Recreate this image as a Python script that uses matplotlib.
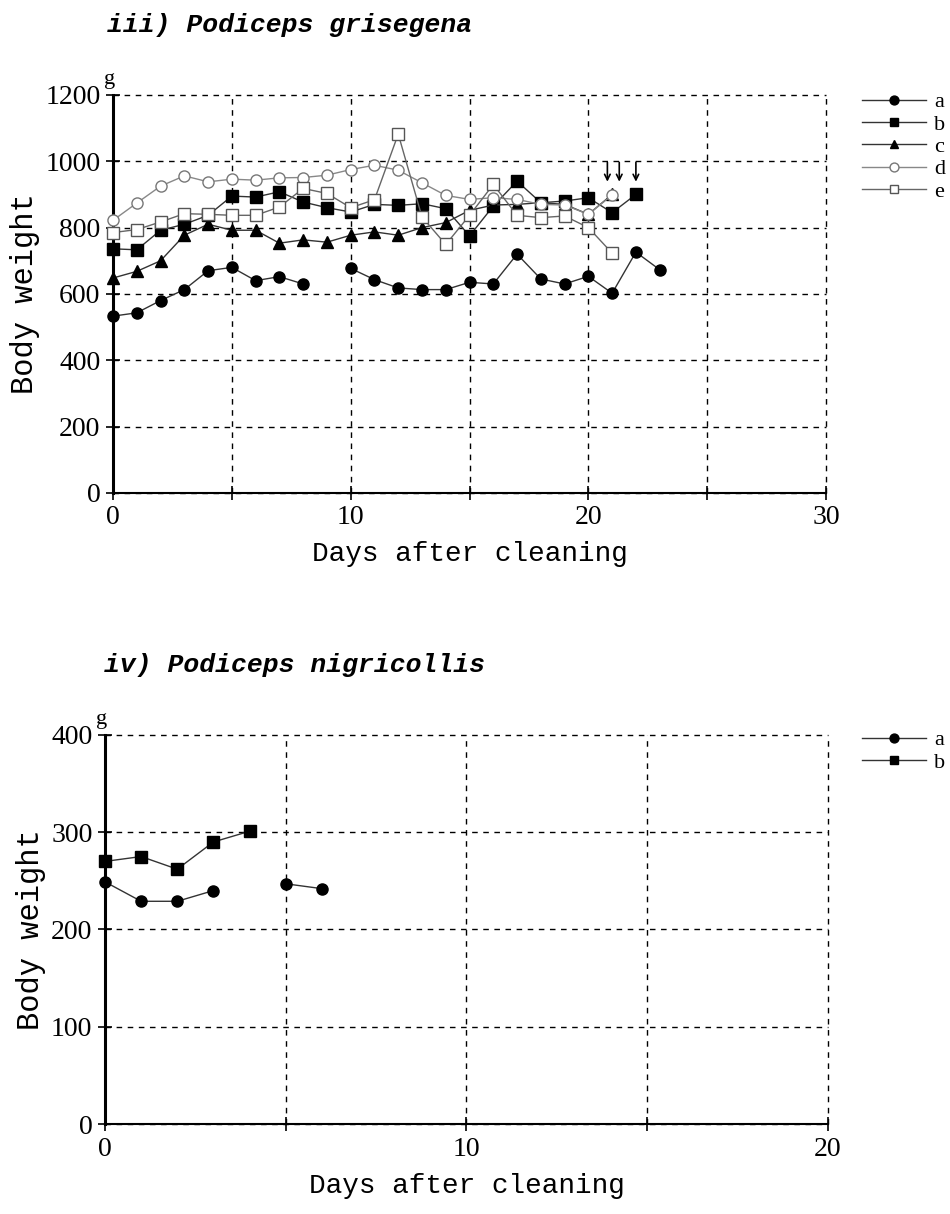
import numpy as np
import matplotlib
matplotlib.use("Agg")
import matplotlib.pyplot as plt
from matplotlib.ticker import MultipleLocator

nan = np.nan

# iii) Podiceps grisegena
days_top = list(range(0, 24))
a_top = [533, 543, 580, 613, 670, 680, 640, 652, 630, nan, 677, 643, 618, 613, 613, 635,
         630, 720, 645, 630, 653, 602, 726, 673]
b_top = [736, 733, 792, 810, 837, 895, 892, 908, 877, 860, 847, 870, 867, 872, 857, 775,
         865, 940, 875, 880, 890, 845, 900]
c_top = [648, 668, 700, 777, 810, 792, 792, 753, 763, 756, 777, 787, 777, 800, 815, 852,
         868, 870, 875, 870, 840, 900]
d_top = [822, 874, 925, 956, 938, 946, 943, 950, 951, 958, 975, 988, 973, 935, 897, 885,
         890, 885, 870, 868, 840, 898]
e_top = [785, 794, 817, 842, 840, 837, 837, 862, 918, 903, 860, 884, 1082, 832, 749, 837,
         930, 837, 830, 835, 800, 723]

# iv) Podiceps nigricollis
days_bot = list(range(0, 7))
a_bot = [249, 229, 229, 240, nan, 247, 242]
b_bot = [270, 275, 262, 290, 301]

labels_top = ['a', 'b', 'c', 'd', 'e']
labels_bot = ['a', 'b']

styles = {
    'a': dict(marker='o', mfc='black', mec='black', color='#333333'),
    'b': dict(marker='s', mfc='black', mec='black', color='#333333'),
    'c': dict(marker='^', mfc='black', mec='black', color='#333333'),
    'd': dict(marker='o', mfc='white', mec='#777777', color='#888888'),
    'e': dict(marker='s', mfc='white', mec='#555555', color='#666666'),
}

mono = 'Liberation Mono'
serif = 'Liberation Serif'


def style_axes(ax, xmax, ymax, ystep):
    ax.set_xlim(0, xmax)
    ax.set_ylim(0, ymax)
    ax.xaxis.set_major_locator(MultipleLocator(10))
    ax.xaxis.set_minor_locator(MultipleLocator(5))
    ax.yaxis.set_major_locator(MultipleLocator(ystep))
    ax.spines['top'].set_visible(False)
    ax.spines['right'].set_visible(False)
    ax.spines['left'].set_linewidth(2.2)
    ax.spines['bottom'].set_linewidth(1.5)
    ax.grid(True, which='major', ls=(0, (4, 4)), color='black', lw=1.0)
    ax.grid(True, which='minor', axis='x', ls=(0, (4, 4)), color='black', lw=1.0)
    # keep the gridlines on the top / right border visible
    for ln in ax.get_xgridlines() + ax.get_ygridlines():
        ln.set_clip_on(False)
    for tk in ax.xaxis.get_minor_ticks():
        tk.gridline.set_clip_on(False)
    ax.tick_params(which='both', direction='inout', length=10, width=1.2,
                   labelsize=20, pad=4)
    for t in ax.get_xticklabels() + ax.get_yticklabels():
        t.set_family(serif)
    ax.set_xlabel('Days after cleaning', family=mono, fontsize=20, labelpad=8)
    ax.set_ylabel('Body weight', family=mono, fontsize=22, labelpad=4)
    ax.text(-0.005, 1.015, 'g', transform=ax.transAxes, ha='center', va='bottom',
            family=serif, fontsize=16)


def plot_series(ax, days, series, labels, anchor):
    for vals, lab in zip(series, labels):
        st = styles[lab]
        ax.plot(days[:len(vals)], vals, marker=st['marker'], ms=8, mfc=st['mfc'],
                mec=st['mec'], mew=1.0, color=st['color'], lw=1.0, label=lab,
                clip_on=False, zorder=3)
    ax.legend(loc='upper left', bbox_to_anchor=anchor, frameon=False,
              borderaxespad=0, borderpad=0,
              handlelength=2.9, handletextpad=0.35, labelspacing=0.08,
              markerscale=0.8, prop={'family': serif, 'size': 16})


fig = plt.figure(figsize=(9.5, 12.14), dpi=100)

ax1 = fig.add_axes([0.119, 0.594, 0.7505, 0.3278])
plot_series(ax1, days_top, [a_top, b_top, c_top, d_top, e_top], labels_top, (1.05, 1.008))
style_axes(ax1, 30, 1200, 200)

# arrows marking the last record of c, d and b
for vals, off in [(c_top, -0.2), (d_top, 0.3), (b_top, 0.0)]:
    x = days_top[len(vals) - 1] + off
    ax1.annotate('', xy=(x, 930), xytext=(x, 1005),
                 arrowprops=dict(arrowstyle='->', lw=1.2, color='black'))

fig.text(0.113, 0.979, 'iii) Podiceps grisegena', family=mono, fontsize=19,
         fontweight='bold', style='italic', ha='left', va='center')

ax2 = fig.add_axes([0.1105, 0.0741, 0.761, 0.3205])
plot_series(ax2, days_bot, [a_bot, b_bot], labels_bot, (1.047, 1.013))
style_axes(ax2, 20, 400, 100)

fig.text(0.11, 0.452, 'iv) Podiceps nigricollis', family=mono, fontsize=19,
         fontweight='bold', style='italic', ha='left', va='center')

fig.savefig('out.png', dpi=100)
